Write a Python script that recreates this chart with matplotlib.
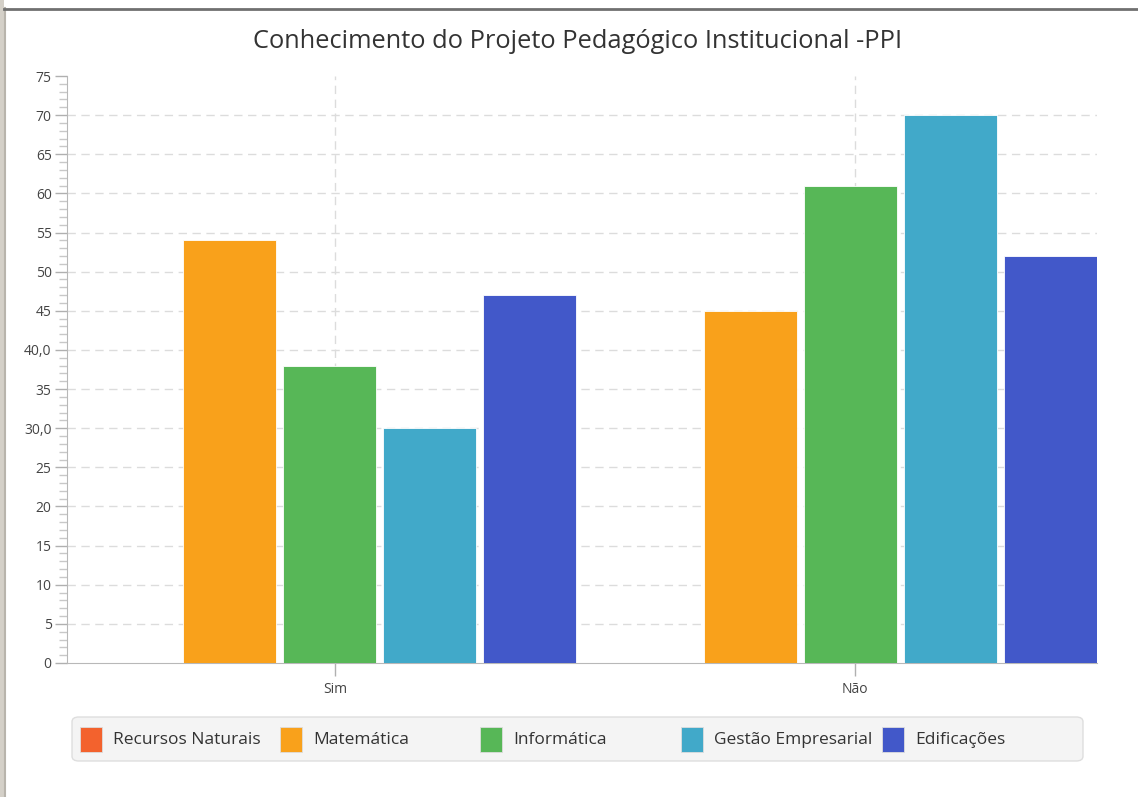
import matplotlib
matplotlib.use("Agg")
import matplotlib.pyplot as plt
from matplotlib.patches import Rectangle, FancyBboxPatch
from matplotlib.lines import Line2D
import numpy as np

plt.rcParams['font.family'] = ['Open Sans', 'DejaVu Sans']

title = "Conhecimento do Projeto Pedagógico Institucional -PPI"
categories = ["Sim", "Não"]
series = ["Recursos Naturais", "Matemática", "Informática", "Gestão Empresarial", "Edificações"]
values = {
    "Recursos Naturais": [0, 0],
    "Matemática": [54, 45],
    "Informática": [38, 61],
    "Gestão Empresarial": [30, 70],
    "Edificações": [47, 52],
}
colors = ["#f3622d", "#f9a11b", "#57b757", "#41a9c9", "#4258c9"]
ytick_vals = [0, 5, 10, 15, 20, 25, 30, 35, 40, 45, 50, 55, 60, 65, 70, 75]
ytick_labels = ["0", "5", "10", "15", "20", "25", "30,0", "35", "40,0", "45", "50", "55", "60", "65", "70", "75"]

W, H = 1138, 797
fig = plt.figure(figsize=(W / 100, H / 100), dpi=100)
fig.patch.set_facecolor("white")

# window frame
fig.add_artist(Rectangle((0, 0), 4 / W, 1, transform=fig.transFigure, facecolor="#d4d0c8", edgecolor="none"))
fig.add_artist(Line2D([5 / W, 5 / W], [0, 1 - 8 / H], transform=fig.transFigure, color="#b8b4ac", lw=1.5))
fig.add_artist(Line2D([4 / W, 1], [1 - 8.5 / H, 1 - 8.5 / H], transform=fig.transFigure, color="#707070", lw=2))

ax = fig.add_axes([67 / W, 1 - 663 / H, (1097 - 67) / W, (663 - 76) / H])
x = np.arange(len(categories))
step = 100 / 520
bw = 93 / 520
n = len(series)
for i, (name, c) in enumerate(zip(series, colors)):
    offs = (i - (n - 1) / 2) * step - 5 / 520
    ax.bar(x + offs, values[name], width=bw, color=c, edgecolor="#ffffff", linewidth=0.6, zorder=3)

ax.set_xlim(-0.515, 1.465)
ax.set_ylim(0, 75)
ax.set_xticks(x)
ax.set_xticklabels(categories)
ax.set_yticks(ytick_vals)
ax.set_yticklabels(ytick_labels)
ax.set_yticks(np.arange(0, 76, 1), minor=True)
ax.tick_params(axis="y", which="major", length=9, width=1, color="#b0b0b0", labelsize=10, labelcolor="#444444", pad=2)
ax.tick_params(axis="y", which="minor", length=5.5, width=1, color="#c8c8c8")
ax.tick_params(axis="x", which="major", length=9, width=1, color="#b0b0b0", labelsize=10, labelcolor="#444444", pad=5)
ax.grid(axis="y", which="major", color="#dcdcdc", linestyle=(0, (6, 4)), linewidth=1, zorder=0)
ax.grid(axis="x", which="major", color="#dcdcdc", linestyle=(0, (6, 4)), linewidth=1, zorder=0)
ygl = ax.yaxis.get_gridlines()
ygl[-1].set_visible(False)
ygl[0].set_visible(False)
for s in ["top", "right"]:
    ax.spines[s].set_visible(False)
ax.spines["left"].set_color("#b8b8b8")
ax.spines["bottom"].set_color("#b8b8b8")

fig.text(578 / W, 1 - 42 / H, title, ha="center", va="center", fontsize=18.3, color="#333333")

# legend
leg_box = FancyBboxPatch((72 / W, 1 - 761 / H), (1083 - 72) / W, (761 - 717) / H,
                         boxstyle="round,pad=0,rounding_size=0.006", transform=fig.transFigure,
                         facecolor="#f4f4f4", edgecolor="#dedede", linewidth=1)
fig.add_artist(leg_box)
item_x = [80, 280, 480, 681, 882]
for xi, name, c in zip(item_x, series, colors):
    fig.add_artist(Rectangle((xi / W, 1 - 752 / H), 22 / W, 25 / H, transform=fig.transFigure,
                             facecolor=c, edgecolor="#dddddd", linewidth=0.6))
    fig.text((xi + 33) / W, 1 - 740 / H, name, ha="left", va="center", fontsize=12.5, color="#333333")

fig.savefig("out.png", dpi=100)
